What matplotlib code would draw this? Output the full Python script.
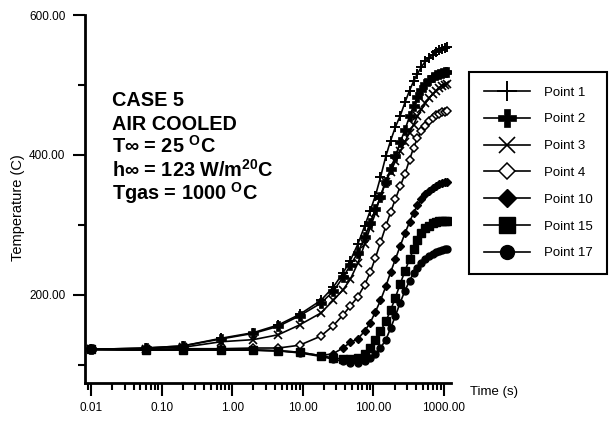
import matplotlib.pyplot as plt
from matplotlib.ticker import FixedLocator, NullFormatter, LogLocator

plt.rcParams['font.family'] = ['Liberation Sans', 'DejaVu Sans']
plt.rcParams['mathtext.fontset'] = 'custom'
plt.rcParams['mathtext.rm'] = 'Liberation Sans:bold'
plt.rcParams['mathtext.bf'] = 'Liberation Sans:bold'

# time steps (s)
time = [0.01, 0.06, 0.2, 0.7, 2, 4.5, 9, 18, 27, 37, 47, 60, 75, 90, 107, 126,
        150, 175, 205, 240, 280, 325, 370, 420, 480, 545, 615, 690, 770, 850,
        935, 1020, 1100]

# temperatures (C)
point1 = [122, 124, 127, 138, 146, 157, 172, 192, 211, 231, 249, 272, 298, 320,
          342, 368, 398, 420, 440, 456, 475, 492, 505, 516, 526, 534, 539, 543,
          547, 550, 552, 553, 554]
point2 = [122, 124, 127, 137, 145, 155, 170, 188, 205, 225, 242, 260, 282, 303,
          322, 340, 362, 380, 398, 418, 436, 455, 470, 483, 493, 501, 507, 511,
          514, 516, 517, 518, 518]
point3 = [122, 123, 125, 133, 136, 143, 157, 174, 192, 207, 222, 245, 272, 296,
          317, 342, 362, 376, 391, 405, 419, 432, 443, 455, 465, 474, 481, 487,
          492, 496, 499, 500, 501]
point4 = [122, 122, 123, 123, 124, 124, 128, 141, 156, 171, 184, 197, 214, 232,
          253, 275, 298, 318, 337, 355, 373, 393, 410, 424, 434, 442, 448, 453,
          457, 459, 461, 462, 463]
point10 = [122, 121, 121, 121, 121, 120, 118, 113, 116, 124, 132, 137, 148, 160,
           176, 192, 212, 232, 251, 270, 288, 304, 317, 328, 337, 344, 349, 353,
           356, 358, 360, 361, 362]
point15 = [122, 121, 121, 121, 121, 120, 118, 113, 110, 108, 108, 110, 116, 124,
           136, 148, 162, 178, 196, 216, 234, 251, 265, 278, 288, 295, 299, 302,
           304, 305, 305, 306, 306]
point17 = [122, 121, 121, 121, 121, 120, 117, 112, 108, 105, 103, 103, 106, 110,
           116, 124, 136, 152, 170, 189, 206, 220, 231, 239, 246, 251, 255, 258,
           261, 263, 264, 265, 266]

series = [
    ("Point 1", point1, dict(marker='+', ms=7.5, mew=1.4)),
    ("Point 2", point2, dict(marker='P', ms=6.5, mew=0.5)),
    ("Point 3", point3, dict(marker='x', ms=6, mew=1.2)),
    ("Point 4", point4, dict(marker='D', ms=4, mew=1.1, mfc='white')),
    ("Point 10", point10, dict(marker='D', ms=4.5)),
    ("Point 15", point15, dict(marker='s', ms=5.5)),
    ("Point 17", point17, dict(marker='o', ms=5)),
]

W, H = 612, 432
fig = plt.figure(figsize=(6.12, 4.32), dpi=100)
ax = fig.add_axes([85 / W, 49 / H, 366 / W, 368 / H])

for name, vals, style in series:
    ax.plot(time, vals, color='black', mec='black', lw=1.2, label=name, **style)

ax.set_xscale('log')
ax.set_xlim(10 ** (-2 - 6 / 70.5), 10 ** (3 + 7 / 70.5))
ax.set_ylim(74, 600)

for s in ['top', 'right']:
    ax.spines[s].set_visible(False)
for s in ['left', 'bottom']:
    ax.spines[s].set_linewidth(2)

xt = [0.01, 0.1, 1, 10, 100, 1000]
ax.xaxis.set_major_locator(FixedLocator(xt))
ax.set_xticklabels(['0.01', '0.10', '1.00', '10.00', '100.00', '1000.00'])
ax.xaxis.set_minor_locator(LogLocator(base=10, subs=range(2, 10)))
ax.xaxis.set_minor_formatter(NullFormatter())

yt = [200, 400, 600]
ax.yaxis.set_major_locator(FixedLocator(yt))
ax.set_yticklabels(['%.2f' % v for v in yt])
ax.yaxis.set_minor_locator(FixedLocator([100, 300, 500]))

ax.tick_params(which='major', direction='out', length=9, width=1.5,
               labelsize=8.5, pad=5)
ax.tick_params(which='minor', direction='out', length=5, width=1.5)

fig.text(470 / W, 1 - 392 / H, "Time (s)", fontsize=9.5, va='center', ha='left')
fig.text(18 / W, 1 - 208 / H, "Temperature (C)", fontsize=10.5, rotation=90,
         va='center', ha='center')

# case annotation
lines = [
    "CASE 5",
    "AIR COOLED",
    r"T∞ = 25 $^{\mathrm{O}}$C",
    r"h∞ = 123 W/m$^{\mathrm{20}}$C",
    r"Tgas = 1000 $^{\mathrm{O}}$C",
]
for i, txt in enumerate(lines):
    fig.text(112 / W, 1 - (106 + 23.5 * i) / H, txt, fontsize=14.3,
             fontweight='bold', va='baseline', ha='left')

leg = ax.legend(loc='upper left', bbox_to_anchor=(469 / W, 1 - 72 / H),
                bbox_transform=fig.transFigure, fontsize=9.5, markerscale=2,
                frameon=True, fancybox=False, edgecolor='black', framealpha=1,
                handlelength=3.5, handletextpad=1.1, borderpad=1.1,
                labelspacing=1.1, borderaxespad=0)
leg.get_frame().set_linewidth(1.5)

fig.savefig("out.png", dpi=100)
